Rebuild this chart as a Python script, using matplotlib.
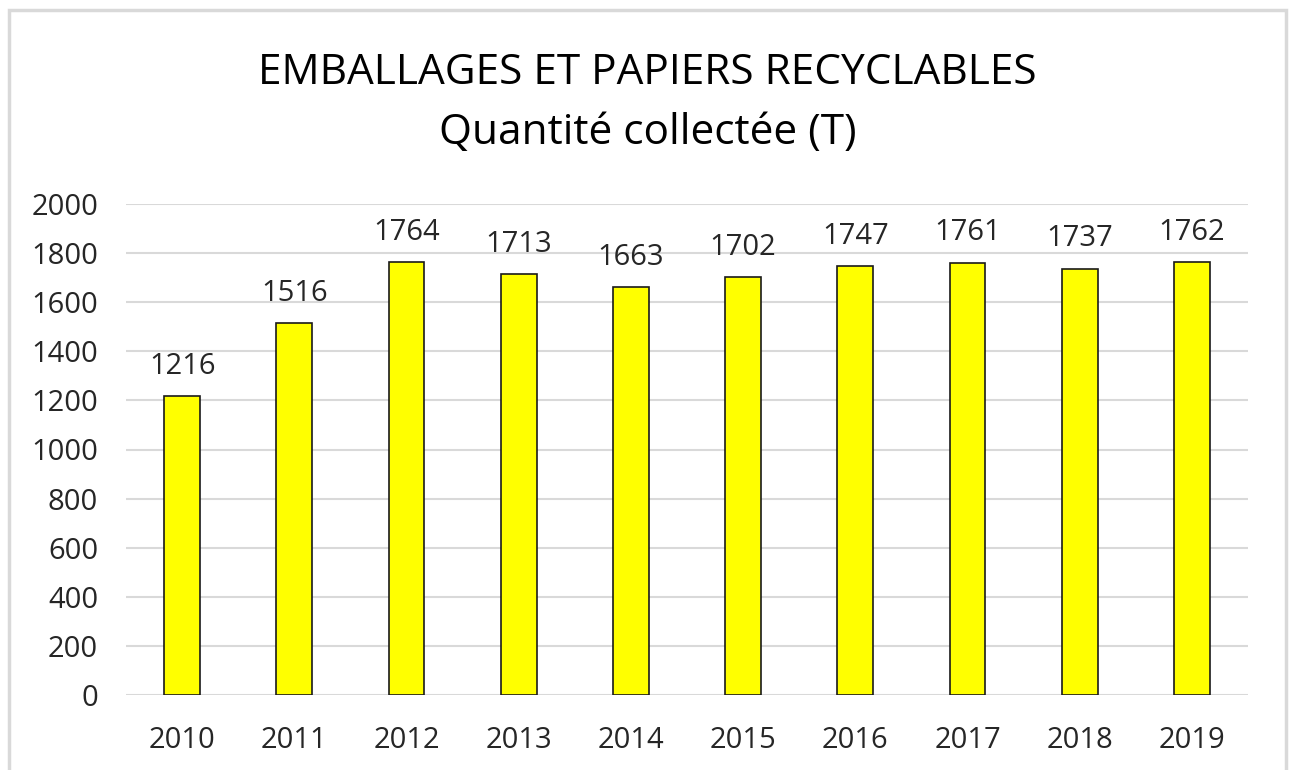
import matplotlib
matplotlib.use("Agg")
import matplotlib.pyplot as plt
from matplotlib.patches import Rectangle

years = ["2010", "2011", "2012", "2013", "2014", "2015", "2016", "2017", "2018", "2019"]
values = [1216, 1516, 1764, 1713, 1663, 1702, 1747, 1761, 1737, 1762]
yticks = [0, 200, 400, 600, 800, 1000, 1200, 1400, 1600, 1800, 2000]

plt.rcParams['font.family'] = ['Open Sans', 'DejaVu Sans']

W, H = 1295, 770
fig = plt.figure(figsize=(W / 100, H / 100), dpi=100)
fig.patch.set_facecolor("white")

# outer border
fig.add_artist(Rectangle((9 / W, -0.05), (1286 - 9) / W, 1.05 - 10 / H,
                         transform=fig.transFigure, fill=False,
                         edgecolor="#d9d9d9", linewidth=2.5))

ax = fig.add_axes([126 / W, 1 - 695 / H, (1248 - 126) / W, (695 - 204) / H])
x = range(len(years))
ax.bar(x, values, width=0.32, color="#ffff00", edgecolor="#1a1a1a", linewidth=1.2, zorder=3)
for xi, v in zip(x, values):
    ax.annotate(str(v), (xi, v), xytext=(0, 16), textcoords="offset points",
                ha="center", va="baseline", fontsize=21, color="#262626")

ax.set_xlim(-0.5, len(years) - 0.5)
ax.set_ylim(0, 2000)
ax.set_yticks(yticks)
ax.set_yticklabels([str(t) for t in yticks], fontsize=21, color="#262626")
ax.set_xticks(list(x))
ax.set_xticklabels(years, fontsize=21, color="#262626")
ax.tick_params(axis="both", length=0)
ax.tick_params(axis="y", pad=20)
ax.tick_params(axis="x", pad=22)
ax.grid(axis="y", color="#d9d9d9", linewidth=1.5, zorder=0)
for s in ax.spines.values():
    s.set_visible(False)

fig.text(0.5, 1 - 73 / H, "EMBALLAGES ET PAPIERS RECYCLABLES", ha="center", va="center",
         fontsize=30.5, color="#000000")
fig.text(0.5, 1 - 133 / H, "Quantité collectée (T)", ha="center", va="center",
         fontsize=30.5, color="#000000")

fig.savefig("out.png", dpi=100)
